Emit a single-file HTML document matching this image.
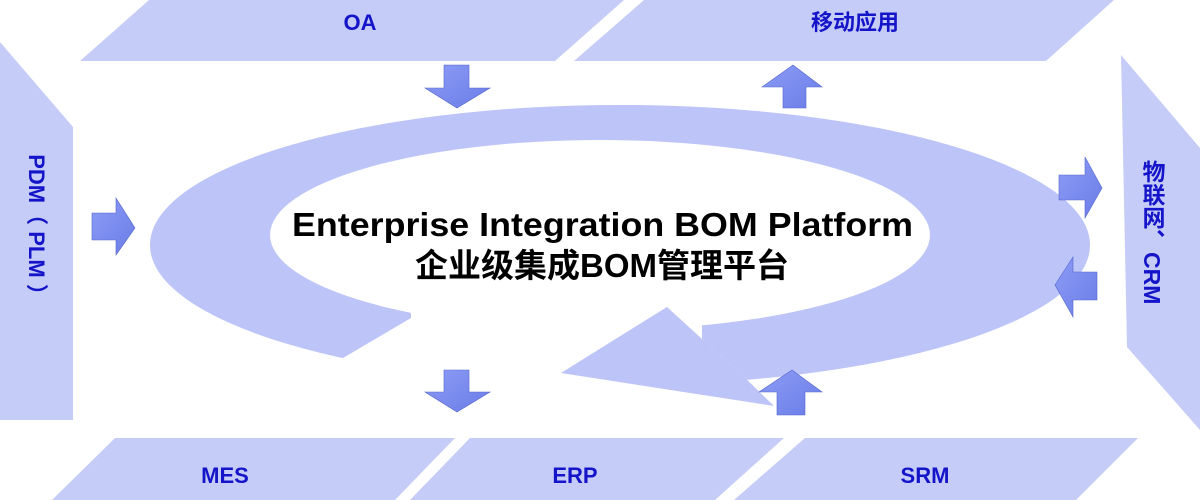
<!DOCTYPE html>
<html><head><meta charset="utf-8"><style>
body{margin:0;width:1200px;height:500px;overflow:hidden;background:#fff}
svg{display:block}
.l{font-family:"Liberation Sans","Noto Sans CJK SC",sans-serif;font-weight:bold;fill:#1414c8;font-size:22px}
</style></head><body>
<svg width="1200" height="500" viewBox="0 0 1200 500">
<defs>
<linearGradient id="ar" x1="0" y1="0" x2="1" y2="1"><stop offset="0" stop-color="#8d9cf5"/><stop offset="1" stop-color="#6a7de8"/></linearGradient>
</defs>
<g fill="#c6ccf8">
<polygon points="149,0 624,0 555,61 80,61"/>
<polygon points="644,0 1114,0 1046,61 574,61"/>
<polygon points="0,42 73,127 73,420 0,420"/>
<polygon points="1121,55 1200,148 1200,430 1127,347"/>
<polygon points="115,438 455,438 395,500 52,500"/>
<polygon points="470,438 784,438 715,500 410,500"/>
<polygon points="805,438 1138,438 1076,500 734,500"/>
</g>
<!-- swirl -->
<path fill-rule="evenodd" fill="#bcc4f8" d="M150,245 a470,140 0 1,0 940,0 a470,140 0 1,0 -940,0 Z M270,235 a330,95 0 1,0 660,0 a330,95 0 1,0 -660,0 Z"/>
<polygon points="411,290 702,290 702,339 741,374 770,430 343,430 343,358 411,318" fill="#fff"/>
<polygon points="561,373 667,307 702,339 741,374 774,406" fill="#bcc4f8"/>
<!-- arrows -->
<g fill="url(#ar)" stroke="#5566cc" stroke-width="0.6">
<polygon points="444,65 469,65 469,88 490,88 457,108 425,88 444,88"/>
<polygon points="783,108 806,108 806,87 822,87 793,65 762,87 783,87"/>
<polygon points="92,213 116,213 116,198 135,228 116,255 116,240 92,240"/>
<polygon points="1059,175 1085,175 1085,157 1102,188 1085,218 1085,200 1059,200"/>
<polygon points="1097,272 1073,272 1073,257 1055,285 1073,317 1073,300 1097,300"/>
<polygon points="444,370 469,370 469,392 490,392 457,412 425,392 444,392"/>
<polygon points="777,415 805,415 805,392 822,392 792,370 759,392 777,392"/>
</g>
<g class="l" text-anchor="middle">
<text x="360" y="30">OA</text>
<text x="855" y="30">移动应用</text>
<text x="225" y="483">MES</text>
<text x="575" y="483">ERP</text>
<text x="925" y="483">SRM</text>
<text x="0" y="0" transform="translate(29,230) rotate(90)">PDM（ PLM ）</text>
</g>
<text class="l" x="1152" y="160" style="writing-mode:vertical-rl;font-size:23px">物联网、CRM</text>
<g font-family="'Liberation Sans','Noto Sans CJK SC',sans-serif" font-weight="bold" fill="#000">
<text x="292" y="236" font-size="33" textLength="621" lengthAdjust="spacingAndGlyphs">Enterprise Integration BOM Platform</text>
<text x="602" y="277" font-size="33" text-anchor="middle">企业级集成BOM管理平台</text>
</g>
</svg>
</body></html>
